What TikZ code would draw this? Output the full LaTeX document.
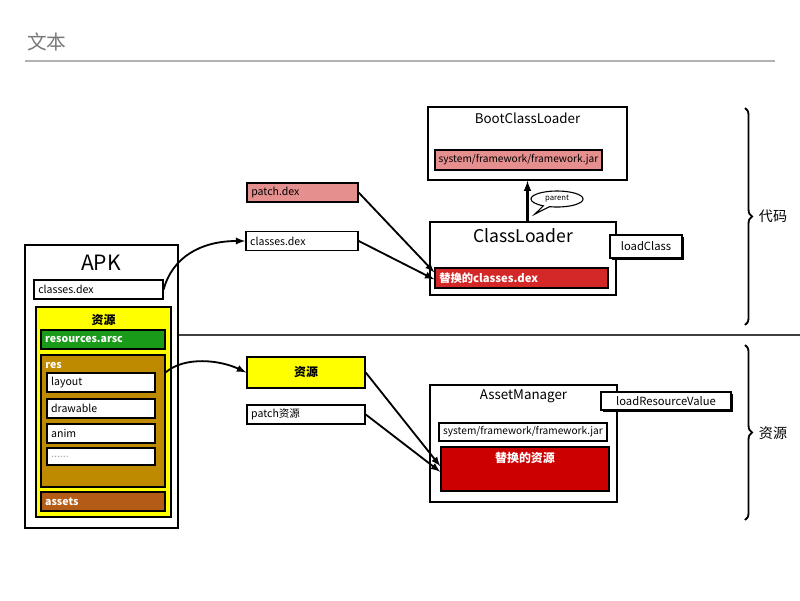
\documentclass[tikz,border=0pt]{standalone}
\usepackage{fontspec}
\setmainfont{Noto Sans CJK SC}
\usetikzlibrary{shapes.callouts,decorations.pathreplacing,shadows}

\definecolor{pinkjar}{RGB}{229,143,143}
\definecolor{redcls}{RGB}{212,40,40}
\definecolor{redres}{RGB}{204,0,0}
\definecolor{resyellow}{RGB}{255,255,0}
\definecolor{arscgreen}{RGB}{25,155,25}
\definecolor{resbrown}{RGB}{190,138,0}
\definecolor{assetbrown}{RGB}{180,92,22}
\definecolor{titlegray}{RGB}{120,120,120}
\definecolor{rulegray}{RGB}{178,178,178}

\begin{document}
\begin{tikzpicture}
[
	x=0.025cm,y=-0.025cm,
	box/.style={rectangle,draw,line width=1,inner sep=0pt},
	lbox/.style={box,align=left,inner xsep=3pt,font=\fontsize{7.5}{8}\selectfont},
	shbox/.style={box,fill=white,font=\fontsize{8}{9}\selectfont,drop shadow={shadow xshift=1.3pt,shadow yshift=-1.3pt,fill=black,opacity=1}},
	txt/.style={inner sep=0pt},
	wtxt/.style={txt,text=white,font=\fontsize{8}{9}\selectfont\bfseries},
	>=latex
]
\useasboundingbox (0,0) rectangle (800,600);

% title
\node[txt,anchor=west,text=titlegray,font=\fontsize{14}{14}\selectfont] (title) at (27,42) {文本};
\draw[rulegray,line width=1.5] (25,61) -- (775,61);

% APK
\node[box,minimum width=3.825cm,minimum height=7.075cm] (apk) at (101.5,386.5) {};
\node[txt,font=\fontsize{15}{15}\selectfont] (apkname) at (101,263) {APK};
\node[lbox,fill=white,text width=3.01cm,minimum height=0.475cm] (apkdex) at (98.5,289.5) {classes.dex};

\node[box,fill=resyellow,minimum width=3.375cm,minimum height=5.25cm] (resall) at (103.5,412) {};
\node[txt,font=\fontsize{8.5}{9}\selectfont\bfseries] (resallname) at (103.5,320) {资源};
\node[lbox,fill=arscgreen,text=white,text width=2.89cm,minimum height=0.475cm,font=\fontsize{7.5}{8}\selectfont\bfseries] (arsc) at (103,339.5) {resources.arsc};
\node[box,fill=resbrown,minimum width=3.1cm,minimum height=3.3cm] (resbox) at (103,421) {};
\node[wtxt,anchor=west,font=\fontsize{7.5}{8}\selectfont\bfseries] (resname) at (45,365) {res};
\node[lbox,fill=white,text width=2.49cm,minimum height=0.475cm] (layout) at (101,382.5) {layout};
\node[lbox,fill=white,text width=2.49cm,minimum height=0.475cm] (drawable) at (101,408.5) {drawable};
\node[lbox,fill=white,text width=2.49cm,minimum height=0.475cm] (anim) at (101,433.5) {anim};
\node[lbox,fill=white,text width=2.49cm,minimum height=0.42cm,text=black!35] (more) at (101,456.5) {......};
\node[lbox,fill=assetbrown,text=white,text width=2.89cm,minimum height=0.475cm,font=\fontsize{7.5}{8}\selectfont\bfseries] (assets) at (103,501.5) {assets};

% code side
\node[box,minimum width=4.975cm,minimum height=1.825cm] (boot) at (527.5,143.5) {};
\node[txt,font=\fontsize{9.5}{10}\selectfont] (bootname) at (527.5,118) {BootClassLoader};
\node[box,fill=pinkjar,minimum width=4.175cm,minimum height=0.5cm,font=\fontsize{7.2}{8}\selectfont] (bootjar) at (518.5,160) {system/framework/framework.jar};

\node[box,minimum width=4.65cm,minimum height=1.825cm] (cl) at (523,258.5) {};
\node[txt,font=\fontsize{12.5}{13}\selectfont] (clname) at (523,236) {ClassLoader};
\node[lbox,fill=redcls,text=white,text width=4.11cm,minimum height=0.5cm,font=\fontsize{8}{9}\selectfont\bfseries] (rdex) at (521.5,278) {替换的classes.dex};
\node[shbox,minimum width=1.8cm,minimum height=0.575cm] (loadcls) at (646,246.5) {loadClass};

\node[ellipse callout,draw,line width=0.8,fill=white,callout absolute pointer={(535,214)},minimum width=1.3cm,minimum height=0.4cm,inner sep=0pt,font=\fontsize{5.5}{6}\selectfont] (parent) at (557,199) {parent};

\node[lbox,fill=pinkjar,text width=2.56cm,minimum height=0.475cm] (pdex) at (302.5,192.5) {patch.dex};
\node[lbox,fill=white,text width=2.59cm,minimum height=0.475cm] (cdex) at (302,241) {classes.dex};

% resource side
\node[box,fill=resyellow,minimum width=2.95cm,minimum height=0.775cm,font=\fontsize{8.5}{9}\selectfont\bfseries] (resy) at (306,372.5) {资源};
\node[lbox,fill=white,text width=2.74cm,minimum height=0.475cm] (pres) at (306,414.5) {patch资源};

\node[box,minimum width=4.675cm,minimum height=2.925cm] (am) at (523.5,443.5) {};
\node[txt,font=\fontsize{9.5}{10}\selectfont] (amname) at (523.5,396) {AssetManager};
\node[box,fill=white,minimum width=4.2cm,minimum height=0.45cm,font=\fontsize{7.2}{8}\selectfont] (amjar) at (523,432) {system/framework/framework.jar};
\node[box,fill=redres,minimum width=4.2cm,minimum height=1.1cm] (rres) at (525,469) {};
\node[wtxt,font=\fontsize{8.5}{9}\selectfont\bfseries] (rresname) at (525,458) {替换的资源};
\node[shbox,minimum width=3.25cm,minimum height=0.45cm] (loadres) at (666,401) {loadResourceValue};

% separator
\coordinate (sepend) at (800,335);
\draw[line width=1,black!75] (apk.east |- sepend) -- (sepend);

% arrows
\draw[line width=1.3,->] (apkdex.east) .. controls (172,258) and (200,241) .. (cdex.west);
\draw[line width=1.3,->] (resbox.east |- layout.north) .. controls (185,356) and (220,360) .. (resy.west);
\draw[line width=1.3,->] (pdex.east) -- ([yshift=4pt]rdex.west);
\draw[line width=1.3,->] (cdex.east) -- ([yshift=-1pt]rdex.west);
\draw[line width=1.3,->] (resy.east) -- ([yshift=2pt]rres.west);
\draw[line width=1.3,->] (pres.east) -- ([yshift=-2pt]rres.west);
\draw[line width=1.5,->] (boot.south |- cl.north) -- (boot.south);

% braces
\draw[line width=1.3,decorate,decoration={brace,amplitude=5pt}] (745,108) -- (745,325);
\node[txt,font=\fontsize{10}{10}\selectfont] (codelbl) at (773,216) {代码};
\draw[line width=1.3,decorate,decoration={brace,amplitude=5pt}] (745,345) -- (745,520);
\node[txt,font=\fontsize{10}{10}\selectfont] (reslbl) at (773,433) {资源};

\end{tikzpicture}
\end{document}
